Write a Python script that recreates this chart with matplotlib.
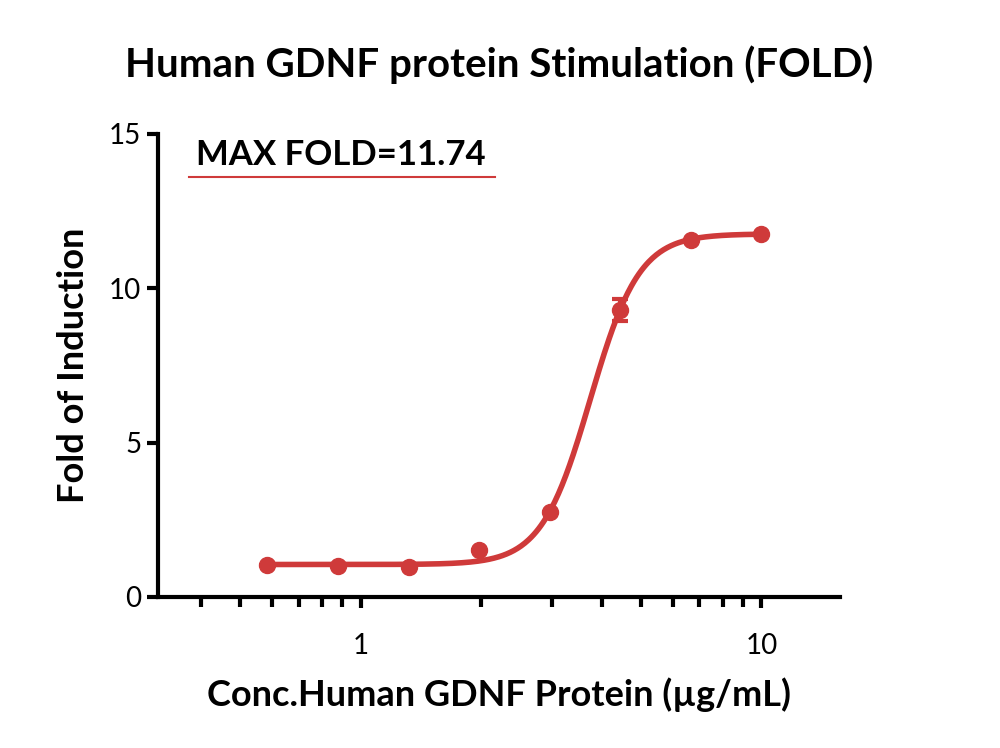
import numpy as np
import matplotlib
matplotlib.use("Agg")
import matplotlib.pyplot as plt
from matplotlib.ticker import LogLocator, FixedLocator, NullFormatter

plt.rcParams["font.family"] = ["Lato", "DejaVu Sans"]

# data
concentration = [0.585, 0.878, 1.317, 1.975, 2.963, 4.444, 6.667, 10.0]
fold = [1.04, 1.00, 0.97, 1.52, 2.75, 9.30, 11.56, 11.76]
fold_err = [0.0, 0.0, 0.0, 0.0, 0.0, 0.36, 0.0, 0.0]

# four-parameter logistic fit (values estimated from the curve)
bottom, top, ec50, hill = 1.05, 11.76, 3.74, 7.1
max_fold_label = "MAX FOLD=11.74"

red = "#CF3A3A"


def four_pl(x):
    return bottom + (top - bottom) / (1 + (ec50 / x) ** hill)


fig = plt.figure(figsize=(10, 7.48), dpi=100)
ax = fig.add_axes([0.158, 0.202, 0.682, 0.619])

xs = np.logspace(np.log10(concentration[0]), np.log10(concentration[-1]), 400)
ax.plot(xs, four_pl(xs), color=red, lw=4, zorder=2)
ax.errorbar(concentration, fold, yerr=fold_err, fmt="o", color=red, ms=11.5,
            elinewidth=3, capsize=6, capthick=3, zorder=3)

ax.set_xscale("log")
ax.set_xlim(0.312, 15.7)
ax.set_ylim(0, 15)
ax.xaxis.set_major_locator(FixedLocator([1, 10]))
ax.set_xticklabels(["1", "10"])
ax.xaxis.set_minor_locator(LogLocator(base=10, subs=np.arange(2, 10)))
ax.xaxis.set_minor_formatter(NullFormatter())
ax.set_yticks([0, 5, 10, 15])

for side in ["top", "right"]:
    ax.spines[side].set_visible(False)
for side in ["left", "bottom"]:
    ax.spines[side].set_linewidth(3)

ax.tick_params(axis="both", which="major", length=8, width=3, labelsize=20)
ax.tick_params(axis="y", which="major", pad=4)
ax.tick_params(axis="x", which="major", pad=18)
ax.tick_params(axis="x", which="minor", length=7, width=3)

ax.set_title("Human GDNF protein Stimulation (FOLD)", fontsize=29, fontweight="bold", pad=41)
ax.set_xlabel("Conc.Human GDNF Protein (\u00b5g/mL)", fontsize=26, fontweight="bold", labelpad=13)
ax.set_ylabel("Fold of Induction", fontsize=26, fontweight="bold", labelpad=14)

ax.text(0.056, 0.99, max_fold_label, transform=ax.transAxes, fontsize=25,
        fontweight="bold", va="top", ha="left")
ax.plot([0.046, 0.494], [0.907, 0.907], transform=ax.transAxes, color=red, lw=1.5,
        clip_on=False)

fig.savefig("out.png", dpi=100)
